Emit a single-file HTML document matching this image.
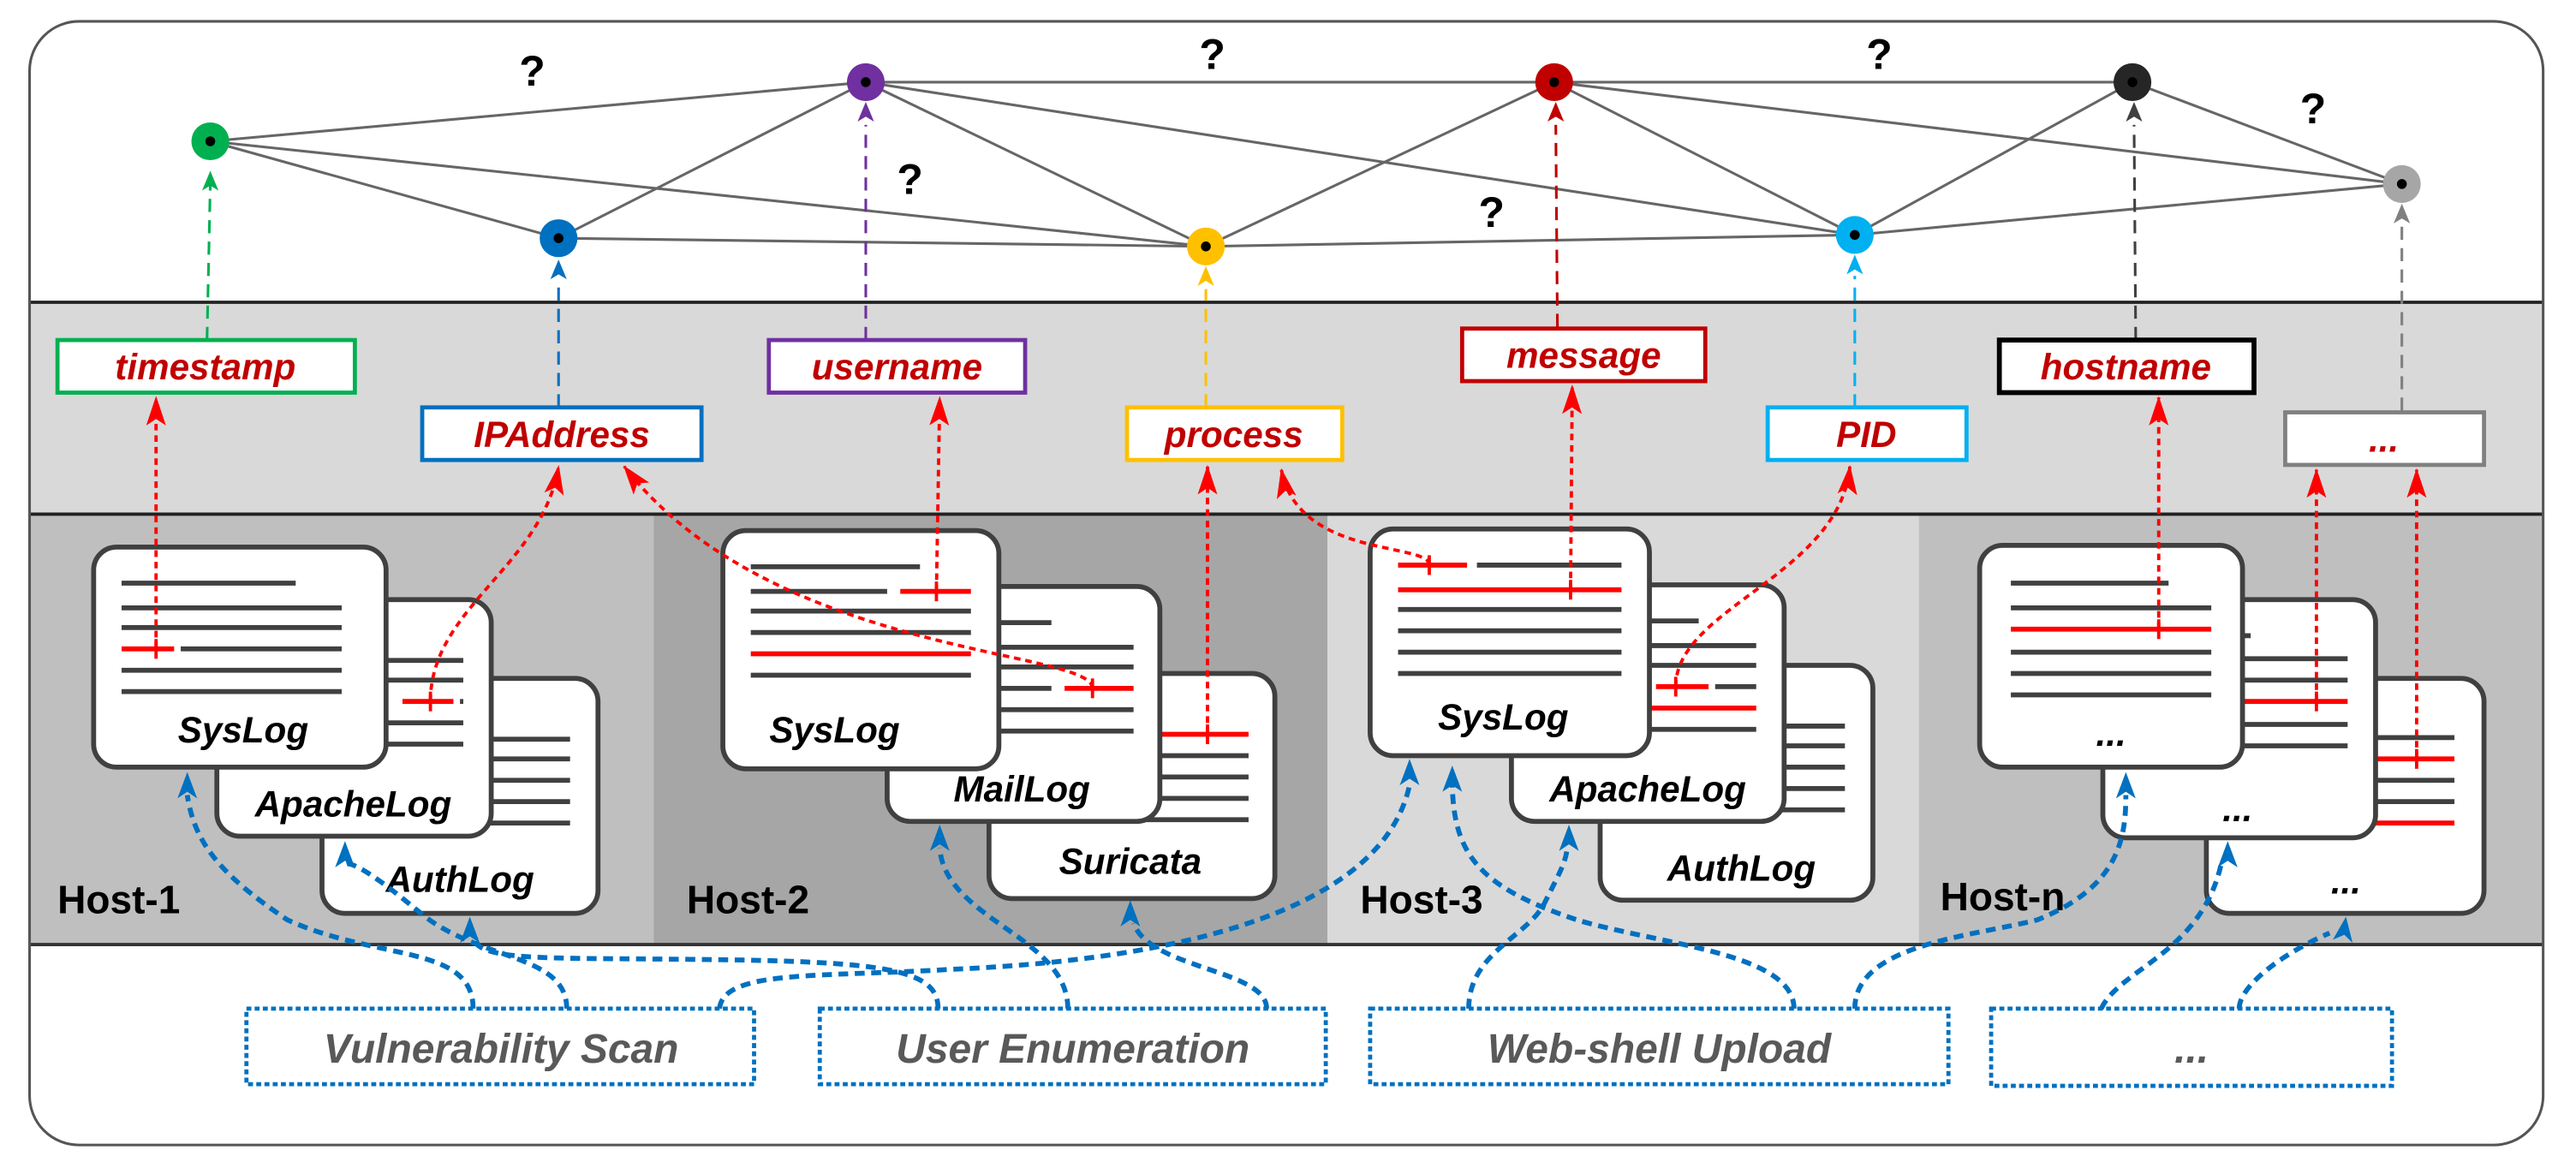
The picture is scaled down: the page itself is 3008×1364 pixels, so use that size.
<!DOCTYPE html>
<html><head><meta charset="utf-8"><style>html,body{margin:0;padding:0;background:#fff}svg{display:block}</style></head><body>
<svg width="3008" height="1364" viewBox="0 0 1568 711" xmlns="http://www.w3.org/2000/svg" font-family="Liberation Sans, sans-serif">
<defs>
<marker id="ar" markerUnits="userSpaceOnUse" markerWidth="18" markerHeight="14" refX="17" refY="7" orient="auto" viewBox="0 0 18 14"><path d="M18 7 L0 1 L4 7 L0 13Z" fill="#ff0000"/></marker>
<clipPath id="cp"><rect x="18" y="13" width="1530" height="684" rx="30"/></clipPath>
</defs>
<style>
.d{fill:#fff;stroke:#404040;stroke-width:3}
.l{stroke:#404040;stroke-width:3}
.r{stroke:#ff0000;stroke-width:3}
.e{stroke:#666;stroke-width:1.6}
.rd{stroke:#ff0000;stroke-width:2;fill:none;stroke-dasharray:4 3}
.bd{stroke:#0070c0;stroke-width:3;fill:none;stroke-dasharray:6 4}
.lb{font-weight:bold;font-style:italic;font-size:22px;fill:#c00000;text-anchor:middle}
.dl{font-weight:bold;font-style:italic;font-size:22px;fill:#000;text-anchor:middle}
.hl{font-weight:bold;font-size:24px;fill:#000}
.q{font-weight:bold;font-size:26px;fill:#000}
.bx{fill:#fff;stroke:#0070c0;stroke-width:2.5;stroke-dasharray:3 2}
.bt{font-weight:bold;font-style:italic;font-size:25px;fill:#595959;text-anchor:middle}
</style>
<g clip-path="url(#cp)">
<rect x="18" y="13" width="1530" height="684" fill="#fff"/>
<rect x="18" y="184" width="1530" height="129" fill="#d9d9d9"/>
<rect x="18" y="313" width="380" height="262" fill="#bfbfbf"/>
<rect x="398" y="313" width="410" height="262" fill="#a6a6a6"/>
<rect x="808" y="313" width="360" height="262" fill="#d9d9d9"/>
<rect x="1168" y="313" width="380" height="262" fill="#bfbfbf"/>
</g>
<line x1="18" y1="184" x2="1548" y2="184" stroke="#222" stroke-width="2"/>
<line x1="18" y1="313" x2="1548" y2="313" stroke="#222" stroke-width="2"/>
<line x1="18" y1="575" x2="1548" y2="575" stroke="#333" stroke-width="2"/>
<rect x="18" y="13" width="1530" height="684" rx="30" fill="none" stroke="#555" stroke-width="1.6"/>

<g class="e">
<line x1="128" y1="86" x2="527" y2="50"/><line x1="128" y1="86" x2="340" y2="145"/><line x1="128" y1="86" x2="734" y2="150"/>
<line x1="340" y1="145" x2="527" y2="50"/><line x1="340" y1="145" x2="734" y2="150"/>
<line x1="527" y1="50" x2="734" y2="150"/><line x1="527" y1="50" x2="946" y2="50"/><line x1="527" y1="50" x2="1129" y2="143"/>
<line x1="734" y1="150" x2="946" y2="50"/><line x1="734" y1="150" x2="1129" y2="143"/>
<line x1="946" y1="50" x2="1129" y2="143"/><line x1="946" y1="50" x2="1298" y2="50"/><line x1="946" y1="50" x2="1462" y2="112"/>
<line x1="1129" y1="143" x2="1298" y2="50"/><line x1="1129" y1="143" x2="1462" y2="112"/><line x1="1298" y1="50" x2="1462" y2="112"/>
</g>
<g class="q"><text x="316" y="52">?</text><text x="730" y="42">?</text><text x="546" y="118">?</text><text x="900" y="138">?</text><text x="1136" y="42">?</text><text x="1400" y="75">?</text></g>

<g stroke-width="1.6" fill="none" stroke-dasharray="8 5">
<line x1="126" y1="207" x2="128" y2="112" stroke="#00b050"/>
<line x1="340" y1="248" x2="340" y2="170" stroke="#0070c0"/>
<line x1="527" y1="207" x2="527" y2="76" stroke="#7030a0"/>
<line x1="734" y1="248" x2="734" y2="176" stroke="#ffc000"/>
<line x1="948" y1="199" x2="947" y2="76" stroke="#c00000"/>
<line x1="1129" y1="248" x2="1129" y2="168" stroke="#00b0f0"/>
<line x1="1300" y1="207" x2="1299" y2="76" stroke="#404040"/>
<line x1="1462" y1="250" x2="1462" y2="138" stroke="#808080"/>
</g>
<g>
<path d="M128 104 l-5 12 l5 -3 l5 3z" fill="#00b050"/>
<path d="M340 158 l-5 12 l5 -3 l5 3z" fill="#0070c0"/>
<path d="M527 62 l-5 12 l5 -3 l5 3z" fill="#7030a0"/>
<path d="M734 162 l-5 12 l5 -3 l5 3z" fill="#ffc000"/>
<path d="M947 62 l-5 12 l5 -3 l5 3z" fill="#c00000"/>
<path d="M1129 155 l-5 12 l5 -3 l5 3z" fill="#00b0f0"/>
<path d="M1299 62 l-5 12 l5 -3 l5 3z" fill="#404040"/>
<path d="M1462 124 l-5 12 l5 -3 l5 3z" fill="#808080"/>
</g>
<g>
<circle cx="128" cy="86" r="11.5" fill="#00b050"/><circle cx="340" cy="145" r="11.5" fill="#0070c0"/>
<circle cx="527" cy="50" r="11.5" fill="#7030a0"/><circle cx="734" cy="150" r="11.5" fill="#ffc000"/>
<circle cx="946" cy="50" r="11.5" fill="#c00000"/><circle cx="1129" cy="143" r="11.5" fill="#00b0f0"/>
<circle cx="1298" cy="50" r="11.5" fill="#262626"/><circle cx="1462" cy="112" r="11.5" fill="#a6a6a6"/>
</g>
<g fill="#000"><circle cx="128" cy="86" r="3"/><circle cx="340" cy="145" r="3"/><circle cx="527" cy="50" r="3"/><circle cx="734" cy="150" r="3"/><circle cx="946" cy="50" r="3"/><circle cx="1129" cy="143" r="3"/><circle cx="1298" cy="50" r="3"/><circle cx="1462" cy="112" r="3"/></g>

<g fill="#fff" stroke-width="2.5">
<rect x="35" y="207" width="181" height="32" stroke="#00b050"/>
<rect x="257" y="248" width="170" height="32" stroke="#0070c0"/>
<rect x="468" y="207" width="156" height="32" stroke="#7030a0"/>
<rect x="686" y="248" width="131" height="32" stroke="#ffc000"/>
<rect x="890" y="200" width="148" height="32" stroke="#c00000"/>
<rect x="1076" y="248" width="121" height="32" stroke="#00b0f0"/>
<rect x="1217" y="207" width="155" height="32" stroke="#000" stroke-width="3"/>
<rect x="1391" y="251" width="121" height="32" stroke="#808080"/>
</g>
<g class="lb">
<text x="125" y="231">timestamp</text><text x="342" y="272">IPAddress</text><text x="546" y="231">username</text>
<text x="751" y="272">process</text><text x="964" y="224">message</text><text x="1136" y="272">PID</text>
<text x="1294" y="231">hostname</text><text x="1451" y="275">...</text>
</g>

<rect class="d" x="196" y="413" width="168" height="143" rx="14"/>
<g class="l"><line x1="213" y1="435" x2="290" y2="435"/><line x1="213" y1="450" x2="347" y2="450"/><line x1="213" y1="462" x2="347" y2="462"/><line x1="213" y1="475" x2="347" y2="475"/><line x1="213" y1="488" x2="347" y2="488"/><line x1="213" y1="501" x2="347" y2="501"/></g>
<text class="dl" x="280" y="543">AuthLog</text>
<rect class="d" x="132" y="365" width="167" height="144" rx="14"/>
<g class="l"><line x1="149" y1="387" x2="230" y2="387"/><line x1="149" y1="402" x2="282" y2="402"/><line x1="149" y1="414" x2="282" y2="414"/><line x1="280" y1="427" x2="282" y2="427"/><line x1="149" y1="440" x2="282" y2="440"/><line x1="149" y1="453" x2="282" y2="453"/></g>
<line class="r" x1="245" y1="427" x2="276" y2="427"/>
<text class="dl" x="215" y="497">ApacheLog</text>
<rect class="d" x="57" y="333" width="178" height="134" rx="14"/>
<g class="l"><line x1="74" y1="355" x2="180" y2="355"/><line x1="74" y1="370" x2="208" y2="370"/><line x1="74" y1="382" x2="208" y2="382"/><line x1="110" y1="395" x2="208" y2="395"/><line x1="74" y1="408" x2="208" y2="408"/><line x1="74" y1="421" x2="208" y2="421"/></g>
<line class="r" x1="74" y1="395" x2="106" y2="395"/>
<text class="dl" x="148" y="452">SysLog</text>
<text class="hl" x="35" y="556">Host-1</text>

<rect class="d" x="602" y="410" width="174" height="137" rx="14"/>
<g class="l"><line x1="619" y1="433" x2="700" y2="433"/><line x1="619" y1="460" x2="760" y2="460"/><line x1="619" y1="473" x2="760" y2="473"/><line x1="619" y1="486" x2="760" y2="486"/><line x1="619" y1="499" x2="760" y2="499"/></g>
<line class="r" x1="660" y1="447" x2="760" y2="447"/>
<text class="dl" x="688" y="532">Suricata</text>
<rect class="d" x="540" y="357" width="166" height="143" rx="14"/>
<g class="l"><line x1="557" y1="379" x2="640" y2="379"/><line x1="557" y1="394" x2="690" y2="394"/><line x1="557" y1="406" x2="690" y2="406"/><line x1="557" y1="419" x2="640" y2="419"/><line x1="557" y1="432" x2="690" y2="432"/><line x1="557" y1="445" x2="690" y2="445"/></g>
<line class="r" x1="648" y1="419" x2="690" y2="419"/>
<text class="dl" x="622" y="488">MailLog</text>
<rect class="d" x="440" y="323" width="168" height="145" rx="14"/>
<g class="l"><line x1="457" y1="345" x2="560" y2="345"/><line x1="457" y1="360" x2="540" y2="360"/><line x1="457" y1="372" x2="591" y2="372"/><line x1="457" y1="385" x2="591" y2="385"/><line x1="457" y1="411" x2="591" y2="411"/></g>
<line class="r" x1="548" y1="360" x2="591" y2="360"/><line class="r" x1="457" y1="398" x2="591" y2="398"/>
<text class="dl" x="508" y="452">SysLog</text>
<text class="hl" x="418" y="556">Host-2</text>

<rect class="d" x="974" y="405" width="166" height="143" rx="14"/>
<g class="l"><line x1="991" y1="427" x2="1078" y2="427"/><line x1="991" y1="442" x2="1123" y2="442"/><line x1="991" y1="454" x2="1123" y2="454"/><line x1="991" y1="467" x2="1123" y2="467"/><line x1="991" y1="480" x2="1123" y2="480"/><line x1="991" y1="493" x2="1123" y2="493"/></g>
<text class="dl" x="1060" y="536">AuthLog</text>
<rect class="d" x="920" y="356" width="166" height="144" rx="14"/>
<g class="l"><line x1="937" y1="378" x2="1034" y2="378"/><line x1="937" y1="393" x2="1069" y2="393"/><line x1="937" y1="405" x2="1069" y2="405"/><line x1="1044" y1="418" x2="1069" y2="418"/><line x1="937" y1="444" x2="1069" y2="444"/></g>
<line class="r" x1="1008" y1="418" x2="1040" y2="418"/><line class="r" x1="937" y1="431" x2="1069" y2="431"/>
<text class="dl" x="1003" y="488">ApacheLog</text>
<rect class="d" x="834" y="322" width="170" height="138" rx="14"/>
<g class="l"><line x1="899" y1="344" x2="987" y2="344"/><line x1="851" y1="371" x2="987" y2="371"/><line x1="851" y1="384" x2="987" y2="384"/><line x1="851" y1="397" x2="987" y2="397"/><line x1="851" y1="410" x2="987" y2="410"/></g>
<line class="r" x1="851" y1="344" x2="893" y2="344"/><line class="r" x1="851" y1="359" x2="987" y2="359"/>
<text class="dl" x="915" y="444">SysLog</text>
<text class="hl" x="828" y="556">Host-3</text>

<rect class="d" x="1343" y="413" width="169" height="143" rx="14"/>
<g class="l"><line x1="1360" y1="435" x2="1420" y2="435"/><line x1="1360" y1="449" x2="1494" y2="449"/><line x1="1360" y1="475" x2="1494" y2="475"/><line x1="1360" y1="488" x2="1494" y2="488"/></g>
<line class="r" x1="1360" y1="462" x2="1494" y2="462"/><line class="r" x1="1360" y1="501" x2="1494" y2="501"/>
<text class="dl" x="1428" y="544">...</text>
<rect class="d" x="1280" y="365" width="166" height="145" rx="14"/>
<g class="l"><line x1="1297" y1="387" x2="1370" y2="387"/><line x1="1297" y1="401" x2="1429" y2="401"/><line x1="1297" y1="414" x2="1429" y2="414"/><line x1="1297" y1="441" x2="1429" y2="441"/><line x1="1297" y1="454" x2="1429" y2="454"/></g>
<line class="r" x1="1297" y1="427" x2="1429" y2="427"/>
<text class="dl" x="1362" y="500">...</text>
<rect class="d" x="1205" y="332" width="160" height="135" rx="14"/>
<g class="l"><line x1="1224" y1="355" x2="1320" y2="355"/><line x1="1224" y1="370" x2="1346" y2="370"/><line x1="1224" y1="397" x2="1346" y2="397"/><line x1="1224" y1="410" x2="1346" y2="410"/><line x1="1224" y1="423" x2="1346" y2="423"/></g>
<line class="r" x1="1224" y1="383" x2="1346" y2="383"/>
<text class="dl" x="1285" y="454">...</text>
<text class="hl" x="1181" y="554">Host-n</text>

<g class="rd" marker-end="url(#ar)">
<path d="M95 395 L95 242"/>
<path d="M262 427 C262 370 330 345 340 284"/>
<path d="M665 419 C665 395 470 400 380 284"/>
<path d="M570 360 L572 242"/>
<path d="M735 447 L735 284"/>
<path d="M870 344 C870 330 790 340 780 286"/>
<path d="M956 359 L957 235"/>
<path d="M1020 418 C1020 370 1120 350 1126 284"/>
<path d="M1314 383 L1314 242"/>
<path d="M1410 427 L1410 286"/>
<path d="M1471 462 L1471 286"/>
</g>
<g stroke="#ff0000" stroke-width="2">
<line x1="95" y1="389" x2="95" y2="401"/><line x1="262" y1="421" x2="262" y2="433"/><line x1="665" y1="413" x2="665" y2="425"/><line x1="570" y1="354" x2="570" y2="366"/><line x1="735" y1="441" x2="735" y2="453"/><line x1="870" y1="338" x2="870" y2="350"/><line x1="956" y1="353" x2="956" y2="365"/><line x1="1020" y1="412" x2="1020" y2="424"/><line x1="1314" y1="377" x2="1314" y2="389"/><line x1="1410" y1="421" x2="1410" y2="433"/><line x1="1471" y1="456" x2="1471" y2="468"/>
</g>

<rect class="bx" x="150" y="614" width="309" height="46"/>
<rect class="bx" x="499" y="614" width="308" height="46"/>
<rect class="bx" x="834" y="614" width="352" height="46"/>
<rect class="bx" x="1212" y="614" width="244" height="47"/>
<text class="bt" x="305" y="647">Vulnerability Scan</text>
<text class="bt" x="653" y="647">User Enumeration</text>
<text class="bt" x="1010" y="647">Web-shell Upload</text>
<text class="bt" x="1334" y="647">...</text>

<g class="bd">
<path d="M288 614 C288 575 230 585 175 560 C130 530 118 510 114 484"/>
<path d="M345 614 C345 580 290 585 255 555 C225 530 214 525 211 526"/>
<path d="M438 614 C440 590 500 595 580 590 C700 585 840 560 858 478"/>
<path d="M571 614 C571 590 540 585 420 584 C330 583 295 585 288 572"/>
<path d="M650 614 C650 570 575 560 572 516"/>
<path d="M771 614 C771 590 700 590 690 562"/>
<path d="M894 614 C894 580 930 570 940 550 C950 530 953 525 954 516"/>
<path d="M1092 614 C1092 580 1010 575 960 560 C900 540 885 520 884 478"/>
<path d="M1129 614 C1129 575 1200 570 1240 560 C1290 540 1294 510 1294 484"/>
<path d="M1279 614 C1290 590 1340 580 1352 526"/>
<path d="M1363 614 C1363 600 1390 580 1418 568"/>
</g>
<g fill="#0070c0">
<path d="M114 470 l-6 16 l6 -4 l6 4z"/><path d="M210 512 l-6 16 l6 -4 l6 4z"/><path d="M286 558 l-6 16 l6 -4 l6 4z"/>
<path d="M572 502 l-6 16 l6 -4 l6 4z"/><path d="M688 548 l-6 16 l6 -4 l6 4z"/>
<path d="M858 462 l-6 16 l6 -4 l6 4z"/><path d="M884 466 l-6 16 l6 -4 l6 4z"/><path d="M955 502 l-6 16 l6 -4 l6 4z"/>
<path d="M1294 470 l-6 16 l6 -4 l6 4z"/><path d="M1356 512 l-6 16 l6 -4 l6 4z"/><path d="M1428 558 l-8 14 l7 -3 l5 5z"/>
</g>
</svg>
</body></html>
